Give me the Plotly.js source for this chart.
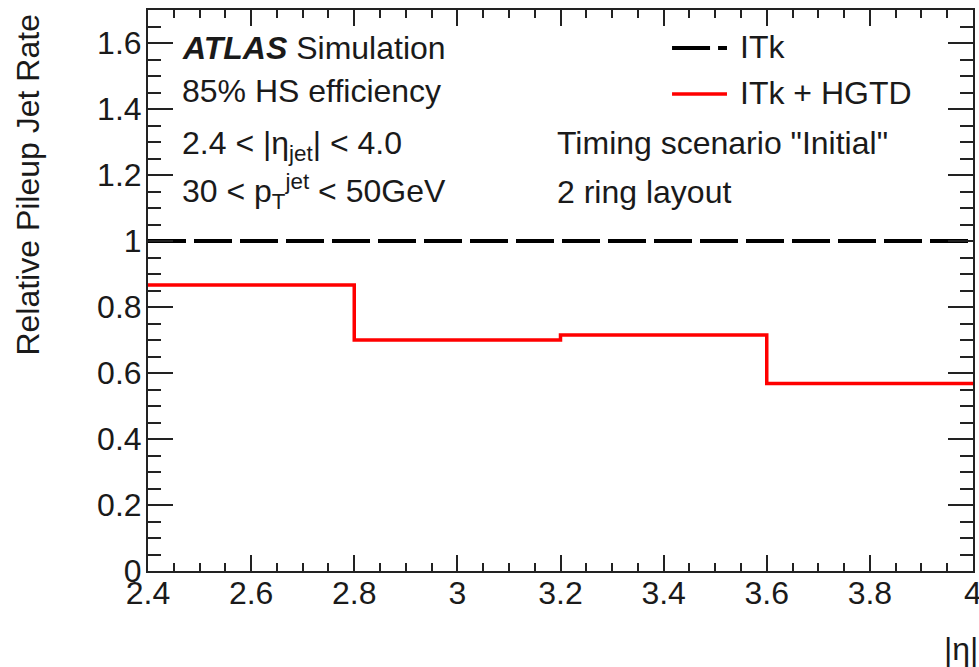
<!DOCTYPE html>
<html>
<head>
<meta charset="utf-8">
<script src="https://cdn.plot.ly/plotly-3.0.1.min.js"></script>
<style>html,body{margin:0;padding:0;background:#fff;}#chart{width:979px;height:667px;}</style>
</head>
<body>
<div id="chart"></div>
<script>
// ---- data ----
var binEdges = [2.4, 2.8, 3.2, 3.6, 4.0];
var itkValues = [1.0, 1.0, 1.0, 1.0];
var hgtdValues = [0.867, 0.700, 0.715, 0.568];
var seriesNames = ["ITk", "ITk + HGTD"];
var xTickVals = [2.4, 2.6, 2.8, 3.0, 3.2, 3.4, 3.6, 3.8, 4.0];
var xTickText = ["2.4", "2.6", "2.8", "3", "3.2", "3.4", "3.6", "3.8", "4"];
var yTickVals = [0, 0.2, 0.4, 0.6, 0.8, 1.0, 1.2, 1.4, 1.6];
var yTickText = ["0", "0.2", "0.4", "0.6", "0.8", "1", "1.2", "1.4", "1.6"];
var xTitle = "|η|";
var yTitle = "Relative Pileup Jet Rate";
var labelLines = [
  "<b><i>ATLAS</i></b> Simulation",
  "85% HS efficiency",
  "2.4 < |η<sub>jet</sub>| < 4.0",
  "30 < p<sub>T</sub><sup>jet</sup> < 50GeV",
  "Timing scenario \"Initial\"",
  "2 ring layout"
];

function stepY(vals) { return vals.concat([vals[vals.length - 1]]); }

var FONT = "Liberation Sans, Arial, Helvetica, sans-serif";
var TXT = "#1a1a1a";
var FS = 32;

var traces = [
  { x: binEdges, y: stepY(itkValues), name: seriesNames[0], mode: "lines",
    line: { shape: "hv", color: "#000", width: 4, dash: "38px,8px" }, showlegend: false, hoverinfo: "skip" },
  { x: binEdges, y: stepY(hgtdValues), name: seriesNames[1], mode: "lines",
    line: { shape: "hv", color: "#ff0000", width: 3.5 }, showlegend: false, hoverinfo: "skip" }
];

function ann(text, x, y, xa, extra) {
  var a = { text: text, x: x, y: y, xref: "paper", yref: "paper", xanchor: xa || "left", yanchor: "middle",
            showarrow: false, font: { family: FONT, size: FS, color: TXT } };
  if (extra) for (var k in extra) a[k] = extra[k];
  return a;
}

var layout = {
  width: 979, height: 667,
  margin: { l: 148, r: 6, t: 10, b: 96 },
  paper_bgcolor: "#fff", plot_bgcolor: "#fff",
  showlegend: false,
  font: { family: FONT, size: FS, color: TXT },
  xaxis: {
    range: [2.4, 4.0], showgrid: false, zeroline: false,
    showline: true, linecolor: "#222", linewidth: 2, mirror: "ticks",
    ticks: "inside", ticklen: 16, tickwidth: 2, tickcolor: "#222",
    tickmode: "array", tickvals: xTickVals, ticktext: xTickText,
    ticklabelstandoff: -7, ticklabeloverflow: "allow",
    tickfont: { family: FONT, size: FS, color: TXT },
    minor: { tickmode: "linear", tick0: 2.4, dtick: 0.05, ticks: "inside", ticklen: 8, tickwidth: 2, tickcolor: "#222", showgrid: false }
  },
  yaxis: {
    range: [0, 1.7], showgrid: false, zeroline: false,
    showline: true, linecolor: "#222", linewidth: 2, mirror: "ticks",
    ticks: "inside", ticklen: 25, tickwidth: 2, tickcolor: "#222",
    tickmode: "array", tickvals: yTickVals, ticktext: yTickText,
    ticklabelstandoff: -2, ticklabeloverflow: "allow",
    tickfont: { family: FONT, size: FS, color: TXT },
    minor: { tickmode: "linear", tick0: 0, dtick: 0.05, ticks: "inside", ticklen: 13, tickwidth: 2, tickcolor: "#222", showgrid: false }
  },
  shapes: [
    { type: "line", xref: "paper", yref: "paper", x0: 0.6352, x1: 0.7018, y0: 0.9323, y1: 0.9323,
      line: { color: "#000", width: 4, dash: "38px,8px" } },
    { type: "line", xref: "paper", yref: "paper", x0: 0.6352, x1: 0.7018, y0: 0.8503, y1: 0.8503,
      line: { color: "#ff0000", width: 3.5 } }
  ],
  annotations: [
    ann(labelLines[0], 0.0388, 0.932),
    ann(labelLines[1], 0.0388, 0.8556),
    ann(labelLines[2], 0.0388, 0.759),
    ann(labelLines[3], 0.0388, 0.6756),
    ann(labelLines[4], 0.4933, 0.763),
    ann(labelLines[5], 0.4933, 0.6756),
    ann(seriesNames[0], 0.7152, 0.934),
    ann(seriesNames[1], 0.7152, 0.852),
    ann(yTitle, -0.146, 0.688, "center", { textangle: -90 }),
    ann(xTitle, 0.985, -0.139, "center")
  ]
};

Plotly.newPlot("chart", traces, layout, { staticPlot: true, displayModeBar: false });
</script>
</body>
</html>
